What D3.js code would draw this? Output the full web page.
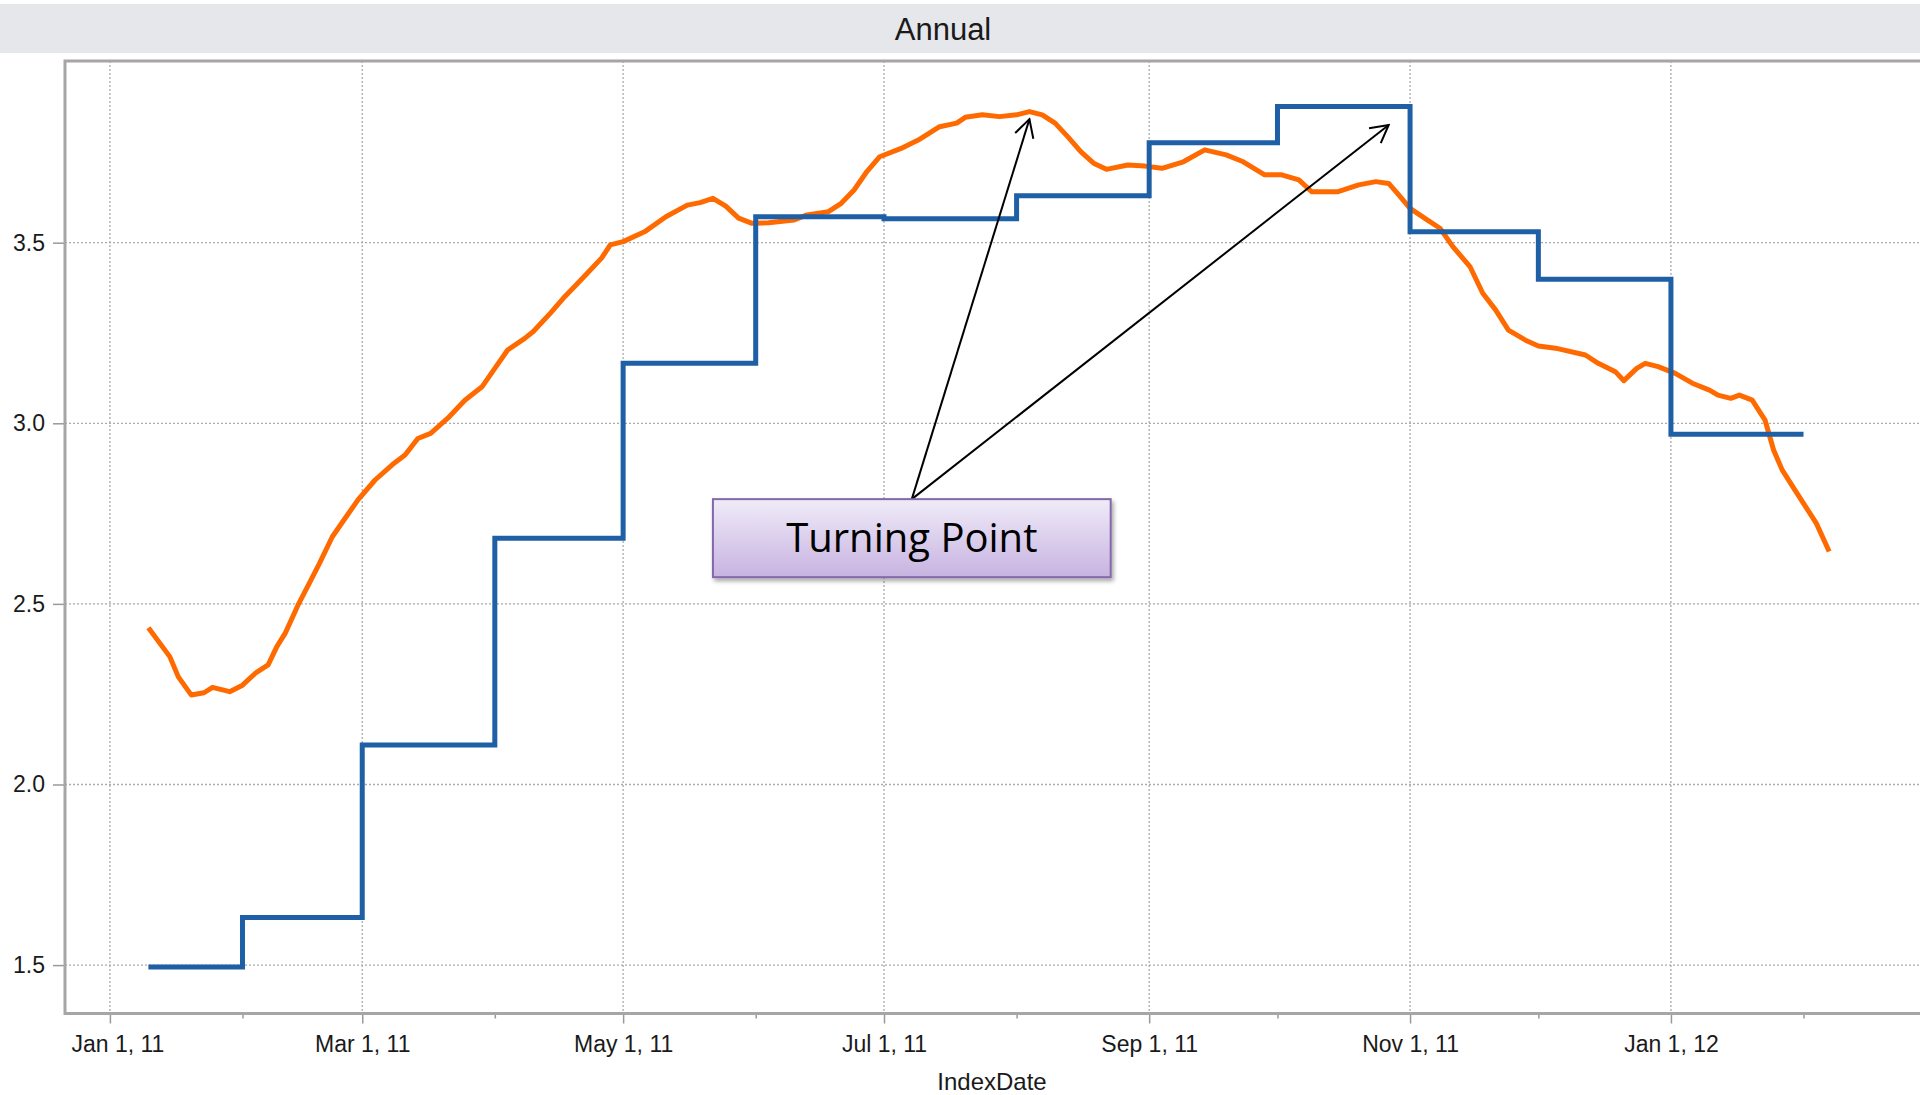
<!DOCTYPE html>
<html>
<head>
<meta charset="utf-8">
<script src="https://cdn.jsdelivr.net/npm/d3@7"></script>
<style>
  body { margin: 0; background: #fff; }
  svg { display: block; font-family: "Liberation Sans", Arial, sans-serif; }
</style>
</head>
<body>
<div id="chart-area"></div>
<script>
/*
*    annual chart
*/
// step series (blue)
var stepDates = ["2011-01-10","2011-02-01","2011-03-01","2011-04-01","2011-05-01","2011-06-01","2011-07-01",
	"2011-08-01","2011-09-01","2011-10-01","2011-11-01","2011-12-01","2012-01-01","2012-02-01"];
var stepValues = [1.495,1.632,2.109,2.682,3.166,3.572,3.566,3.630,3.777,3.877,3.530,3.399,2.970,2.970];

// smooth series (orange)
var lineDates = ["2011-01-10","2011-01-15","2011-01-17","2011-01-20","2011-01-23","2011-01-25","2011-01-29","2011-02-01","2011-02-04","2011-02-07",
	"2011-02-09","2011-02-11","2011-02-14","2011-02-17","2011-02-19","2011-02-22","2011-02-25","2011-02-28","2011-03-04","2011-03-08",
	"2011-03-11","2011-03-14","2011-03-17","2011-03-21","2011-03-25","2011-03-29","2011-04-01","2011-04-04","2011-04-08","2011-04-10",
	"2011-04-14","2011-04-17","2011-04-20","2011-04-23","2011-04-26","2011-04-28","2011-05-01","2011-05-06","2011-05-11","2011-05-16",
	"2011-05-19","2011-05-22","2011-05-25","2011-05-28","2011-05-31","2011-06-04","2011-06-10","2011-06-13","2011-06-18","2011-06-21",
	"2011-06-24","2011-06-27","2011-06-30","2011-07-05","2011-07-09","2011-07-14","2011-07-18","2011-07-20","2011-07-24","2011-07-28",
	"2011-08-01","2011-08-04","2011-08-07","2011-08-10","2011-08-13","2011-08-16","2011-08-19","2011-08-22","2011-08-27","2011-08-31",
	"2011-09-04","2011-09-09","2011-09-14","2011-09-19","2011-09-23","2011-09-28","2011-10-02","2011-10-06","2011-10-09","2011-10-15",
	"2011-10-20","2011-10-24","2011-10-27","2011-10-29","2011-11-01","2011-11-05","2011-11-08","2011-11-11","2011-11-15","2011-11-18",
	"2011-11-21","2011-11-24","2011-11-28","2011-12-01","2011-12-05","2011-12-12","2011-12-15","2011-12-19","2011-12-21","2011-12-24",
	"2011-12-26","2011-12-29","2012-01-02","2012-01-06","2012-01-10","2012-01-12","2012-01-15","2012-01-17","2012-01-20","2012-01-23",
	"2012-01-25","2012-01-27","2012-01-30","2012-02-04","2012-02-07"];
var lineValues = [2.434,2.354,2.298,2.248,2.254,2.269,2.257,2.275,2.308,2.331,
	2.381,2.419,2.497,2.566,2.612,2.686,2.737,2.788,2.843,2.885,
	2.912,2.958,2.972,3.014,3.064,3.101,3.152,3.203,3.235,3.254,
	3.305,3.346,3.383,3.420,3.458,3.494,3.503,3.530,3.572,3.604,
	3.611,3.623,3.601,3.568,3.554,3.555,3.563,3.577,3.586,3.609,
	3.646,3.697,3.738,3.761,3.784,3.821,3.831,3.847,3.854,3.849,
	3.854,3.863,3.854,3.831,3.793,3.752,3.720,3.703,3.715,3.712,
	3.706,3.724,3.757,3.743,3.724,3.688,3.688,3.674,3.641,3.641,
	3.660,3.669,3.664,3.637,3.595,3.563,3.540,3.489,3.434,3.360,
	3.314,3.258,3.230,3.214,3.208,3.189,3.166,3.143,3.118,3.152,
	3.166,3.157,3.138,3.111,3.092,3.078,3.069,3.078,3.064,3.009,
	2.926,2.871,2.815,2.723,2.645];

var yTicks = [1.5, 2.0, 2.5, 3.0, 3.5];

// callout: box corners and the two points it points to
var boxDates = ["2011-05-22", "2011-08-23"];
var boxValues = [2.79, 2.574];
var arrowDates = ["2011-08-04", "2011-10-27"];
var arrowValues = [3.842, 3.826];

var parse = d3.timeParse("%Y-%m-%d");

var width = 1920;
var height = 1095;
var plot = {left: 65, right: 1919, top: 61, bottom: 1013.5};

var svg = d3.select("#chart-area")
	.append("svg")
	.attr("width", width)
	.attr("height", height);

var defs = svg.append("defs");

var grad = defs.append("linearGradient")
	.attr("id", "boxFill")
	.attr("x1", 0).attr("y1", 0).attr("x2", 0).attr("y2", 1);
grad.append("stop").attr("offset", "0%").attr("stop-color", "#f0ebf8");
grad.append("stop").attr("offset", "100%").attr("stop-color", "#c7b3e1");

var shadow = defs.append("filter")
	.attr("id", "shadow")
	.attr("x", "-10%").attr("y", "-10%").attr("width", "130%").attr("height", "140%");
shadow.append("feDropShadow")
	.attr("dx", 2).attr("dy", 3)
	.attr("stdDeviation", 2)
	.attr("flood-color", "#000")
	.attr("flood-opacity", 0.35);

defs.append("marker")
	.attr("id", "arrowHead")
	.attr("markerUnits", "userSpaceOnUse")
	.attr("viewBox", "-20 -12 22 24")
	.attr("markerWidth", 22)
	.attr("markerHeight", 24)
	.attr("refX", 0).attr("refY", 0)
	.attr("orient", "auto")
	.append("path")
	.attr("d", "M-17.5,-9.5L0,0L-17.5,9.5")
	.attr("fill", "none")
	.attr("stroke", "#000")
	.attr("stroke-width", 2);

// title band
svg.append("rect")
	.attr("x", 0).attr("y", 4)
	.attr("width", width).attr("height", 49)
	.attr("fill", "#e6e7eb");

svg.append("text")
	.attr("x", 943).attr("y", 29)
	.attr("text-anchor", "middle")
	.attr("dominant-baseline", "central")
	.attr("font-size", "31px")
	.attr("fill", "#1a1a1a")
	.text("Annual");

//  Scale
var x = d3.scaleTime()
	.domain([new Date(2010, 11, 21, 12), new Date(2012, 1, 28)])
	.range([plot.left, plot.right]);
var y = d3.scaleLinear()
	.domain([1.366, 4.003])
	.range([plot.bottom, plot.top]);

var majorTicks = d3.timeMonth.every(2).range(x.domain()[0], x.domain()[1]);
var minorTicks = d3.timeMonth.range(x.domain()[0], x.domain()[1]).filter((d) => { return d.getMonth() % 2 === 1; });

// grid
var grid = svg.append("g").attr("class", "grid");
grid.selectAll("line.v").data(majorTicks)
	.enter().append("line")
	.attr("class", "v")
	.attr("x1", (d) => { return x(d); }).attr("x2", (d) => { return x(d); })
	.attr("y1", plot.top).attr("y2", plot.bottom)
	.attr("stroke", "#aaa").attr("stroke-width", 1.3)
	.attr("stroke-dasharray", "2,2");
grid.selectAll("line.h").data(yTicks)
	.enter().append("line")
	.attr("class", "h")
	.attr("x1", plot.left).attr("x2", plot.right)
	.attr("y1", (d) => { return y(d); }).attr("y2", (d) => { return y(d); })
	.attr("stroke", "#aaa").attr("stroke-width", 1.3)
	.attr("stroke-dasharray", "2,2");

// axes
var bottomAxis = d3.axisBottom(x)
	.tickValues(majorTicks)
	.tickFormat(d3.timeFormat("%b %-d, %y"))
	.tickSize(10)
	.tickPadding(12.5);
var xAxis = svg.append("g")
	.attr("class", "x axis")
	.attr("transform", "translate(0, " + plot.bottom + ")")
	.call(bottomAxis);
xAxis.select(".domain").remove();
xAxis.selectAll("line").attr("stroke", "#999").attr("stroke-width", 1.5);
xAxis.selectAll("text")
	.attr("font-size", "23px")
	.attr("font-family", "Liberation Sans, Arial, sans-serif")
	.attr("fill", "#1a1a1a");
// first label is pushed inside the plot
xAxis.selectAll(".tick").filter((d, i) => { return i === 0; })
	.select("text")
	.attr("text-anchor", "start")
	.attr("x", -39);

var minorAxis = d3.axisBottom(x).tickValues(minorTicks).tickSize(5).tickFormat("");
var xMinor = svg.append("g")
	.attr("transform", "translate(0, " + plot.bottom + ")")
	.call(minorAxis);
xMinor.select(".domain").remove();
xMinor.selectAll("line").attr("stroke", "#999").attr("stroke-width", 1.5);

var leftAxis = d3.axisLeft(y)
	.tickValues(yTicks)
	.tickFormat(d3.format(".1f"))
	.tickSize(12)
	.tickPadding(8);
var yAxis = svg.append("g")
	.attr("class", "y axis")
	.attr("transform", "translate(" + plot.left + ", 0)")
	.call(leftAxis);
yAxis.select(".domain").remove();
yAxis.selectAll("line").attr("stroke", "#999").attr("stroke-width", 1.5);
yAxis.selectAll("text")
	.attr("font-size", "23px")
	.attr("font-family", "Liberation Sans, Arial, sans-serif")
	.attr("fill", "#1a1a1a");

// plot frame
svg.append("rect")
	.attr("x", plot.left).attr("y", plot.top)
	.attr("width", 1900).attr("height", plot.bottom - plot.top)
	.attr("fill", "none")
	.attr("stroke", "#a6a6a6")
	.attr("stroke-width", 3);

svg.append("text")
	.attr("class", "x axis-label")
	.attr("x", (plot.left + plot.right) / 2)
	.attr("y", 1090)
	.attr("font-size", "24px")
	.attr("text-anchor", "middle")
	.attr("fill", "#1a1a1a")
	.text("IndexDate");

// series
var lineData = lineDates.map((d, i) => { return {date: parse(d), value: lineValues[i]}; });
var stepData = stepDates.map((d, i) => { return {date: parse(d), value: stepValues[i]}; });

var line = d3.line()
	.x((d) => { return x(d.date); })
	.y((d) => { return y(d.value); });

svg.append("path")
	.datum(lineData)
	.attr("fill", "none")
	.attr("stroke", "#ff6a00")
	.attr("stroke-width", 5)
	.attr("stroke-linejoin", "round")
	.attr("d", line);

svg.append("path")
	.datum(stepData)
	.attr("fill", "none")
	.attr("stroke", "#1f5fa6")
	.attr("stroke-width", 5)
	.attr("stroke-linejoin", "miter")
	.attr("d", line.curve(d3.curveStepAfter));

// callout
var bx0 = x(parse(boxDates[0])), bx1 = x(parse(boxDates[1]));
var by0 = y(boxValues[0]), by1 = y(boxValues[1]);
var bcx = (bx0 + bx1) / 2;

svg.selectAll("line.arrow").data(arrowDates)
	.enter().append("line")
	.attr("class", "arrow")
	.attr("x1", bcx).attr("y1", by0)
	.attr("x2", (d) => { return x(parse(d)); })
	.attr("y2", (d, i) => { return y(arrowValues[i]); })
	.attr("stroke", "#000")
	.attr("stroke-width", 2)
	.attr("marker-end", "url(#arrowHead)");

svg.append("rect")
	.attr("x", bx0).attr("y", by0)
	.attr("width", bx1 - bx0).attr("height", by1 - by0)
	.attr("fill", "url(#boxFill)")
	.attr("stroke", "#8468ac")
	.attr("stroke-width", 2)
	.attr("filter", "url(#shadow)");

svg.append("text")
	.attr("x", bcx)
	.attr("y", (by0 + by1) / 2 + 14)
	.attr("text-anchor", "middle")
	.attr("font-family", "'Open Sans', sans-serif")
	.attr("font-size", "40px")
	.attr("fill", "#000")
	.text("Turning Point");
</script>
</body>
</html>
